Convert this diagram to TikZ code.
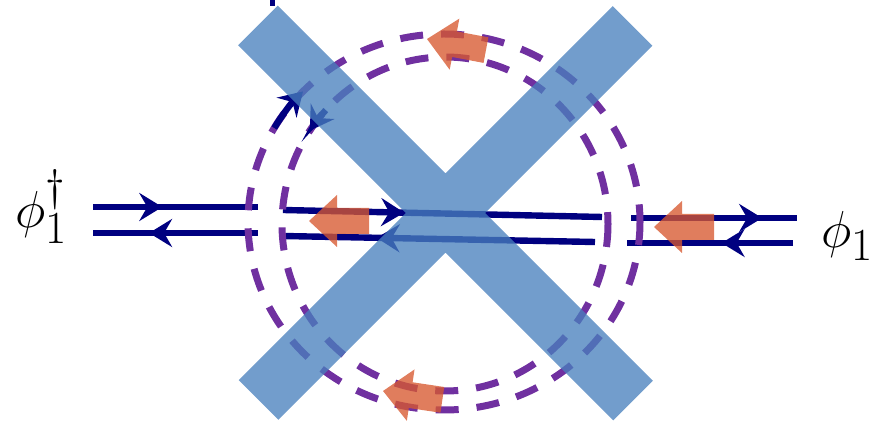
\documentclass[tikz,border=0pt]{standalone}
\usepackage{fix-cm}
\usetikzlibrary{arrows.meta,decorations.markings}
\definecolor{lineblue}{RGB}{0,0,128}
\definecolor{ringpurple}{RGB}{112,48,160}
\definecolor{crossblue}{RGB}{72,128,189}
\definecolor{flowred}{RGB}{215,88,48}
\newcommand\subone{\hbox{\fontsize{23}{23}\selectfont 1}}
\newcommand\supdag{\hbox{\fontsize{22}{22}\selectfont\dag}}
\begin{document}
\begin{tikzpicture}[x = .5pt, y = -.5pt,
    > = {Stealth[length = 11.5pt, width = 14pt, inset = 4pt]},
    fline/.style = {lineblue, line width = 3.2pt},
    mid/.style = {postaction = {decorate},
      decoration = {markings, mark = at position #1 with {\arrow{>}}}},
    ring/.style = {ringpurple, line width = 3.5pt, dash pattern = on 11.5pt off 9pt},
    flow/.style = {fill = flowred, fill opacity = .78},
    label/.style = {anchor = base west, inner sep = 0pt,
      font = {\fontsize{26}{30}\selectfont}}]
  \useasboundingbox (0,0) rectangle (889,421);
  \coordinate (ocenter) at (444,222);
  \coordinate (icenter) at (445,224);
  \draw [fline, mid = .42] (93,207) -- (258,207);
  \draw [fline, mid = .66] (258,233) -- (93,233);
  \draw [fline, mid = .38] (283,210) -- (602,217);
  \draw [fline, mid = .70] (595,242) -- (283,236);
  \draw [fline, mid = .79] (631,218) -- (797,218);
  \draw [fline, mid = .43] (793,243) -- (627,243);
  \draw [ring] (ocenter) ellipse (196 and 188);
  \draw [ring] (icenter) ellipse (163 and 167);
  \draw [fline, ->] (ocenter) ++(-150:196 and 188)
    arc [start angle = -150, end angle = -136, x radius = 196, y radius = 188];
  \draw [fline, ->] (icenter) ++(-137:163 and 167)
    arc [start angle = -137, end angle = -146, x radius = 163, y radius = 167];
  \draw [fline, line width = 2.5pt] (272,0) -- (272,6);
  \fill [crossblue, fill opacity = .77]
    (277.8,5.7) -- (652.8,380.7) -- (613.2,420.3) -- (238.2,45.3) -- cycle
    (652.3,45.8) -- (278.3,419.8) -- (238.7,380.2) -- (612.7,6.2) -- cycle;
  \foreach \x/\y/\a in {309/221/0, 654/227/0, 427/39/-10.7, 383/391/-8.5}
    \fill [flow, shift = {(\x,\y)}, rotate = \a]
      (0,0) -- (28,-26) -- (28,-13) -- (60,-13) -- (60,13) -- (28,13) -- (28,26) -- cycle;
  \node [label] (phidag) at (15,228) {$\phi_{\subone}^{\supdag}$};
  \node [label] (phi) at (821,248) {$\phi_{\subone}$};
\end{tikzpicture}
\end{document}
